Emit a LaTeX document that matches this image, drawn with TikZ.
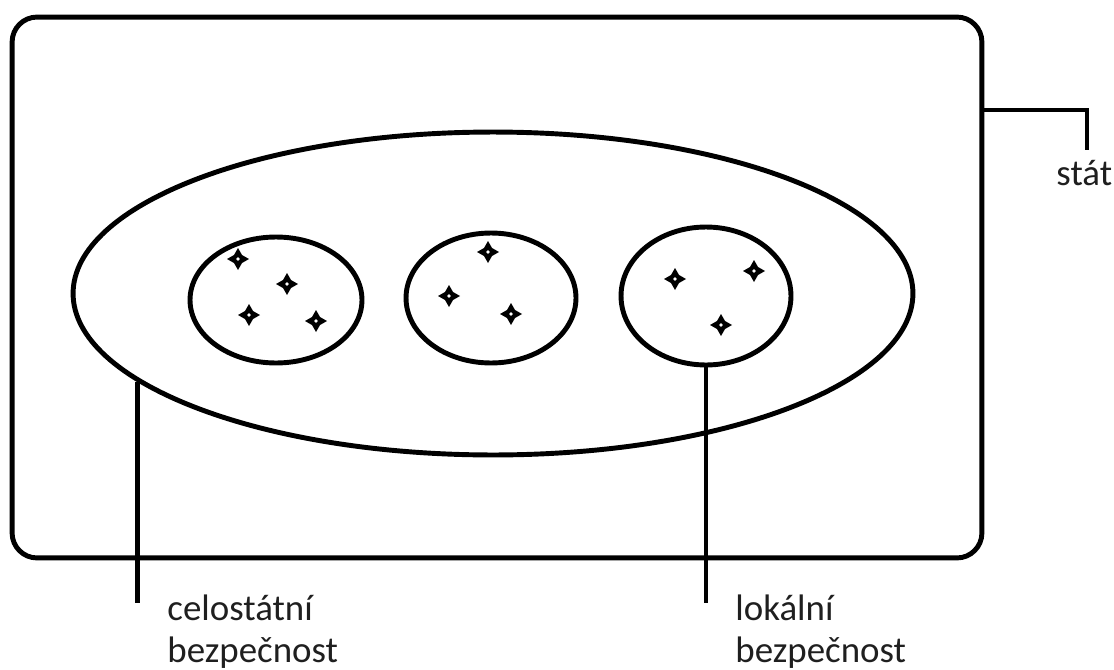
\documentclass[tikz,border=0pt]{standalone}
\usepackage{fontspec}
\setmainfont{Carlito}
\usetikzlibrary{shapes.geometric,calc}
\begin{document}
\begin{tikzpicture}[x=0.02cm,y=-0.02cm, line width=2.8pt,
  lbl/.style={font=\fontsize{21}{24}\selectfont, inner sep=0pt, anchor=base west, text=black!88},
  oval/.style={draw, ellipse, inner sep=0pt},
  sparkle/.pic={\fill (0,-11) -- (4,-4) -- (11,0) -- (4,4) -- (0,11) -- (-4,4) -- (-11,0) -- (-4,-4) -- cycle;
                \fill[white] (0,0) circle (1.9);}
]
\useasboundingbox (0,0) rectangle (1114,669);
% state frame
\node[draw, rounded corners=0.5cm, minimum width=19.4cm, minimum height=10.82cm, inner sep=0pt] (state) at (497,287.5) {};
% national ellipse
\node[oval, minimum width=16.8cm, minimum height=6.46cm] (nat) at (493,293.5) {};
% local circles
\node[oval, minimum width=3.44cm, minimum height=2.52cm] (c1) at (276,300) {};
\node[oval, minimum width=3.40cm, minimum height=2.60cm] (c2) at (491,298) {};
\node[oval, minimum width=3.40cm, minimum height=2.76cm] (c3) at (706,296) {};
% sparkles
\pic at (238,259) {sparkle};
\pic at (287,284) {sparkle};
\pic at (249,315) {sparkle};
\pic at (316,321) {sparkle};
\pic at (488,252) {sparkle};
\pic at (449,296) {sparkle};
\pic at (511,314) {sparkle};
\pic at (675,279) {sparkle};
\pic at (754,271) {sparkle};
\pic at (721,325) {sparkle};
% labels
\node[lbl] (stat) at (1054,185) {stát};
\node[lbl] (cel1) at (165,620) {celostátní};
\node[lbl] (cel2) at (165,662) {bezpečnost};
\node[lbl] (lok1) at (733,620) {lokální};
\node[lbl] (lok2) at (733,662) {bezpečnost};
% connectors
\coordinate (sj) at (1087,110);
\coordinate (send) at (1087,150);
\coordinate (lbot) at (137,603);
\coordinate (rbot) at (706,603);
\draw (state.east |- sj) -- (sj) -- (send);
\draw (nat.194.3) -- (nat.194.3 |- lbot);
\draw (c3.south) -- (c3.south |- rbot);
\end{tikzpicture}
\end{document}
